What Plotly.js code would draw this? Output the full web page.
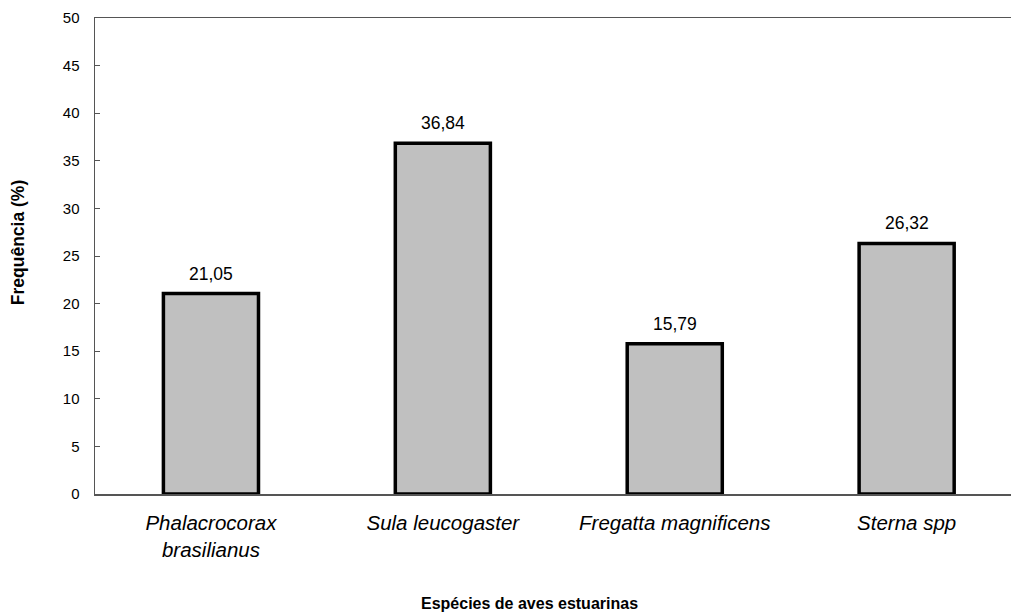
<!DOCTYPE html>
<html>
<head>
<meta charset="utf-8">
<script src="https://cdn.plot.ly/plotly-3.0.1.min.js"></script>
<style>
  html, body { margin: 0; padding: 0; background: #fff; }
  #chart { width: 1011px; height: 615px; }
</style>
</head>
<body>
<div id="chart"></div>
<script>
// Species observed and their relative frequency (%)
const species = [
  "Phalacrocorax<br>brasilianus",
  "Sula leucogaster",
  "Fregatta magnificens",
  "Sterna spp"
];
const frequency = [21.05, 36.84, 15.79, 26.32];
const yTicks = [0, 5, 10, 15, 20, 25, 30, 35, 40, 45, 50];

const positions = species.map((_, i) => i);
const FONT = "Liberation Sans, Arial, sans-serif";

const trace = {
  type: "bar",
  x: positions,
  y: frequency,
  width: 0.41,
  marker: {
    color: "#c0c0c0",
    line: { color: "#000000", width: 3.5 }
  },
  hoverinfo: "skip"
};

// value labels sitting above each bar, formatted with a decimal comma
const valueLabels = frequency.map((v, i) => ({
  x: positions[i],
  y: v,
  xref: "x",
  yref: "y",
  text: v.toFixed(2).replace(".", ","),
  showarrow: false,
  xanchor: "center",
  yanchor: "bottom",
  yshift: 8,
  font: { family: FONT, size: 17.5, color: "#000" }
}));

const titles = [
  {
    text: "<b>Frequência (%)</b>",
    xref: "paper", yref: "paper",
    x: -0.084, y: 0.527,
    xanchor: "center", yanchor: "middle",
    textangle: -90,
    showarrow: false,
    font: { family: FONT, size: 17.5, color: "#000" }
  },
  {
    text: "<b>Espécies de aves estuarinas</b>",
    xref: "paper", yref: "paper",
    x: 0.474, y: -0.231,
    xanchor: "center", yanchor: "middle",
    showarrow: false,
    font: { family: FONT, size: 16, color: "#000" }
  }
];

const layout = {
  width: 1011,
  height: 615,
  margin: { l: 95, r: 0, t: 18, b: 121 },
  paper_bgcolor: "#ffffff",
  plot_bgcolor: "#ffffff",
  showlegend: false,
  font: { family: FONT, size: 14, color: "#000" },
  annotations: valueLabels.concat(titles),
  xaxis: {
    range: [-0.5, 3.45],
    tickmode: "array",
    tickvals: positions,
    ticktext: species.map(s => "<i>" + s + "</i>"),
    tickfont: { size: 20.5, color: "#000" },
    ticks: "",
    ticklabelstandoff: 10,
    showgrid: false,
    zeroline: false,
    showline: true,
    linecolor: "#555555",
    linewidth: 1.5,
    mirror: true,
    automargin: false
  },
  yaxis: {
    range: [0, 50],
    tickmode: "array",
    tickvals: yTicks,
    ticktext: yTicks.map(String),
    tickfont: { size: 15, color: "#000" },
    ticks: "inside",
    ticklen: 5,
    tickcolor: "#555555",
    ticklabelstandoff: 11,
    showgrid: false,
    zeroline: false,
    showline: true,
    linecolor: "#555555",
    linewidth: 1.5,
    automargin: false
  }
};

Plotly.newPlot("chart", [trace], layout, { displayModeBar: false, staticPlot: true });
</script>
</body>
</html>
